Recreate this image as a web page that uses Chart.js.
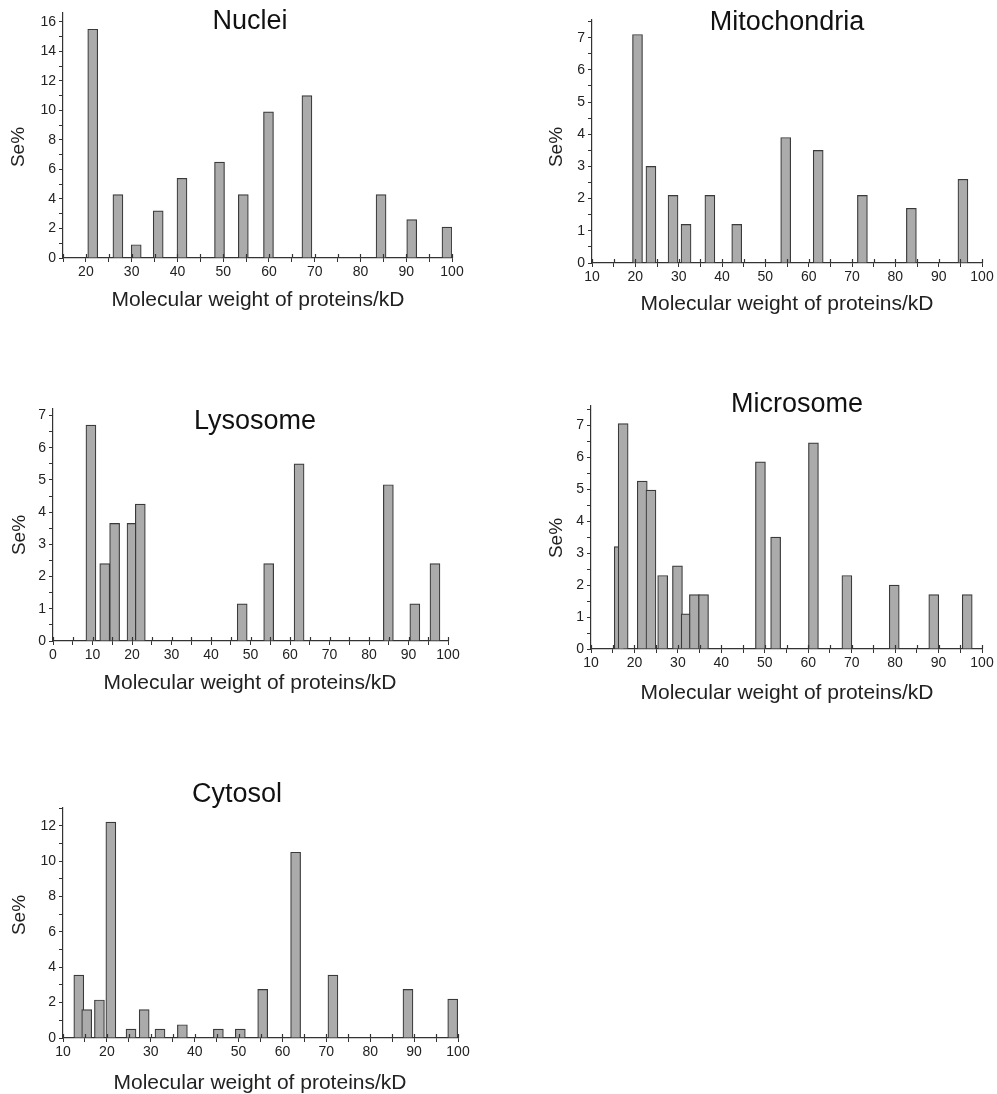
<!DOCTYPE html>
<html>
<head>
<meta charset="utf-8">
<script src="https://cdn.jsdelivr.net/npm/chart.js@4.4.1/dist/chart.umd.min.js"></script>
<style>
  body { margin: 0; background: #fff; }
  #wrap { position: relative; width: 997px; height: 1094px; }
  #wrap canvas { position: absolute; left: 0; top: 0; }
</style>
</head>
<body>
<div id="wrap">
  <canvas id="nuclei" width="997" height="1094"></canvas>
  <canvas id="mito" width="997" height="1094"></canvas>
  <canvas id="lyso" width="997" height="1094"></canvas>
  <canvas id="micro" width="997" height="1094"></canvas>
  <canvas id="cyto" width="997" height="1094"></canvas>
</div>
<script>
// values (x = molecular weight in kD, y = Se%)
const nucleiKd = [21.5, 27.0, 31.0, 35.8, 41.0, 49.2, 54.4, 59.9, 68.3, 84.5, 91.2, 98.9];
const nucleiSe = [15.5, 4.3, 0.9, 3.2, 5.4, 6.5, 4.3, 9.9, 11.0, 4.3, 2.6, 2.1];

const mitoKd = [20.5, 23.6, 28.7, 31.7, 37.2, 43.4, 54.7, 62.2, 72.4, 83.7, 95.6];
const mitoSe = [7.1, 3.0, 2.1, 1.2, 2.1, 1.2, 3.9, 3.5, 2.1, 1.7, 2.6];

const lysoKd = [9.6, 13.1, 15.6, 20.0, 22.1, 47.9, 54.6, 62.3, 84.9, 91.6, 96.7];
const lysoSe = [6.7, 2.4, 3.65, 3.65, 4.25, 1.15, 2.4, 5.5, 4.85, 1.15, 2.4];

const microKd = [16.5, 17.4, 21.8, 23.8, 26.5, 29.9, 31.9, 33.8, 35.9, 49.0, 52.5, 61.2, 68.9, 79.8, 88.9, 96.6];
const microSe = [3.2, 7.05, 5.25, 4.97, 2.3, 2.6, 1.1, 1.7, 1.7, 5.85, 3.5, 6.45, 2.3, 2.0, 1.7, 1.7];

const cytoKd = [13.6, 15.4, 18.3, 20.9, 25.5, 28.5, 32.1, 37.2, 45.4, 50.4, 55.5, 63.0, 71.5, 88.6, 98.8];
const cytoSe = [3.55, 1.6, 2.15, 12.2, 0.5, 1.6, 0.5, 0.75, 0.5, 0.5, 2.75, 10.5, 3.55, 2.75, 2.2];

const FONT = "'Liberation Sans', Arial, sans-serif";
const W = 997, H = 1094;
const Y_AXIS_W = 40, X_AXIS_H = 24;

// draws the panel title inside the plot area, plus the axis titles
const panelTitle = {
  id: 'panelTitle',
  afterDraw(chart, args, opts) {
    const ctx = chart.ctx;
    ctx.save();
    ctx.font = '27px ' + FONT;
    ctx.fillStyle = '#111';
    ctx.textAlign = 'center';
    ctx.textBaseline = 'middle';
    ctx.fillText(opts.text, opts.x, opts.y);
    ctx.font = '21px ' + FONT;
    ctx.fillStyle = '#222';
    ctx.fillText('Molecular weight of proteins/kD', opts.xtx, opts.xty);
    ctx.font = '19px ' + FONT;
    ctx.translate(opts.ytx, opts.yty);
    ctx.rotate(-Math.PI / 2);
    ctx.fillText('Se%', 0, 0);
    ctx.restore();
  }
};

// x ticks in the original cross the axis line; draw the part above it
const crossTicks = {
  id: 'crossTicks',
  afterDraw(chart) {
    const ctx = chart.ctx, x = chart.scales.x, a = chart.chartArea;
    ctx.save();
    ctx.strokeStyle = '#333';
    ctx.lineWidth = 1.2;
    x.ticks.forEach(t => {
      const px = Math.round(x.getPixelForValue(t.value)) + 0.5;
      ctx.beginPath();
      ctx.moveTo(px, a.bottom);
      ctx.lineTo(px, a.bottom - 4);
      ctx.stroke();
    });
    ctx.restore();
  }
};

function panel(id, xs, ys, p) {
  new Chart(document.getElementById(id), {
    type: 'bar',
    data: {
      datasets: [{
        data: xs.map((x, i) => ({ x: x, y: ys[i] })),
        backgroundColor: '#ababab',
        borderColor: '#3a3a3a',
        borderWidth: 1.2,
        barThickness: 10,
        grouped: false
      }]
    },
    options: {
      responsive: false,
      animation: false,
      events: [],
      layout: {
        padding: {
          left: p.left - Y_AXIS_W,
          right: W - p.right,
          top: p.top,
          bottom: H - p.bottom - X_AXIS_H
        }
      },
      plugins: {
        legend: { display: false },
        tooltip: { enabled: false },
        panelTitle: p.title
      },
      scales: {
        x: {
          type: 'linear',
          offset: false,
          min: p.xMin, max: 100,
          afterFit: s => { s.height = X_AXIS_H; },
          border: { display: true, color: '#333', width: 1.2 },
          grid: { offset: false, drawOnChartArea: false, color: '#333', tickLength: 4 },
          ticks: {
            stepSize: 5,
            includeBounds: false,
            autoSkip: false,
            maxRotation: 0,
            padding: 2,
            color: '#222',
            font: { family: FONT, size: 14 },
            callback: v => (v % 10 === 0 ? v : '')
          }
        },
        y: {
          min: 0, max: p.yMax,
          afterFit: s => { s.width = Y_AXIS_W; },
          border: { display: true, color: '#333', width: 1.2 },
          grid: { drawOnChartArea: false, color: '#333', tickLength: 4 },
          ticks: {
            stepSize: p.yMinor,
            includeBounds: false,
            autoSkip: false,
            padding: 3,
            color: '#222',
            font: { family: FONT, size: 14 },
            callback: v => (Math.abs(v / p.yMajor - Math.round(v / p.yMajor)) < 1e-6 ? v : '')
          }
        }
      }
    },
    plugins: [panelTitle, crossTicks]
  });
}

panel('nuclei', nucleiKd, nucleiSe, {
  left: 63, right: 452, top: 13, bottom: 258, xMin: 15, yMax: 16.6, yMajor: 2, yMinor: 1,
  title: { text: 'Nuclei', x: 250, y: 22, xtx: 258, xty: 300, ytx: 19, yty: 147 }
});
panel('mito', mitoKd, mitoSe, {
  left: 592, right: 982, top: 20, bottom: 263, xMin: 10, yMax: 7.55, yMajor: 1, yMinor: 0.5,
  title: { text: 'Mitochondria', x: 787, y: 23, xtx: 787, xty: 304, ytx: 557, yty: 147 }
});
panel('lyso', lysoKd, lysoSe, {
  left: 53, right: 448, top: 409, bottom: 641, xMin: 0, yMax: 7.2, yMajor: 1, yMinor: 0.5,
  title: { text: 'Lysosome', x: 255, y: 422, xtx: 250, xty: 683, ytx: 20, yty: 535 }
});
panel('micro', microKd, microSe, {
  left: 591, right: 982, top: 406, bottom: 649, xMin: 10, yMax: 7.6, yMajor: 1, yMinor: 0.5,
  title: { text: 'Microsome', x: 797, y: 405, xtx: 787, xty: 693, ytx: 557, yty: 538 }
});
panel('cyto', cytoKd, cytoSe, {
  left: 63, right: 458, top: 808, bottom: 1038, xMin: 10, yMax: 13, yMajor: 2, yMinor: 1,
  title: { text: 'Cytosol', x: 237, y: 795, xtx: 260, xty: 1083, ytx: 20, yty: 915 }
});
</script>
</body>
</html>
